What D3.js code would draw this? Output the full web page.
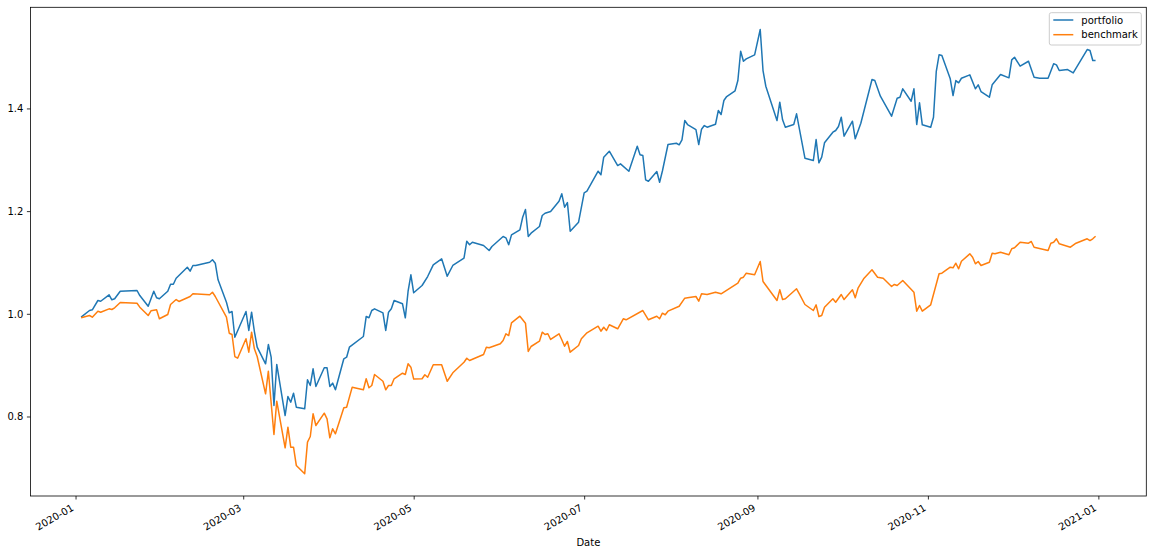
<!DOCTYPE html>
<html><head><meta charset="utf-8">
<script src="https://cdn.jsdelivr.net/npm/d3@7"></script>
<style>body{margin:0;background:#fff}svg{display:block}text{font-family:"DejaVu Sans",sans-serif}</style>
</head><body><svg id="c" width="1153" height="554"></svg>
<script>
// Days counted from 2020-01-01 (0 = Jan 1, 2020)
const portfolioDay = [2,5,6,8,9,12,13,14,16,22,23,26,28,29,30,33,34,35,36,40,41,42,43,48,49,50,51,54,55,56,57,61,62,63,64,65,68,69,70,71,72,75,76,77,78,79,82,83,84,85,86,89,90,91,92,93,96,97,98,103,104,105,106,107,110,111,112,113,114,117,118,119,120,121,124,126,128,131,133,135,139,140,141,142,146,148,149,153,154,155,156,159,160,161,162,163,166,167,168,170,173,174,175,176,177,180,182,183,187,188,189,191,194,195,198,201,202,203,204,205,208,209,210,212,215,216,217,218,219,222,223,224,225,226,229,230,231,232,233,236,237,238,239,240,243,245,246,247,251,252,253,254,257,258,261,264,265,266,267,268,271,272,273,274,275,278,279,281,285,286,288,292,294,295,296,299,300,301,302,303,306,307,308,309,310,313,314,315,316,317,320,322,323,324,327,328,331,334,335,336,338,341,343,345,348,350,351,352,355,357,362,363,364,365];
const portfolioValue = [0.9934,1.0064,1.0078,1.0259,1.0245,1.0370,1.0273,1.0292,1.0440,1.0454,1.0356,1.0148,1.0440,1.0312,1.0292,1.0440,1.0576,1.0576,1.0693,1.0907,1.0830,1.0941,1.0941,1.1005,1.1052,1.0985,1.0662,1.0226,1.0019,1.0045,0.9544,1.0045,0.9675,1.0031,0.9655,0.9350,0.9026,0.9402,0.9155,0.8214,0.9013,0.8019,0.8390,0.8279,0.8454,0.8181,0.8150,0.8715,0.8604,0.8929,0.8584,0.8948,0.8948,0.8584,0.8649,0.8520,0.9124,0.9155,0.9350,0.9558,0.9947,0.9922,1.0064,1.0097,1.0019,0.9675,1.0031,1.0097,1.0259,1.0195,0.9922,1.0440,1.0759,1.0409,1.0551,1.0726,1.0954,1.1071,1.0732,1.0941,1.1083,1.1414,1.1344,1.1394,1.1330,1.1233,1.1311,1.1505,1.1480,1.1344,1.1538,1.1636,1.1881,1.2031,1.1505,1.1570,1.1700,1.1914,1.1959,1.1992,1.2193,1.2337,1.2076,1.2167,1.1609,1.1784,1.2356,1.2388,1.2777,1.2707,1.3050,1.3167,1.2888,1.2921,1.2777,1.3264,1.3096,1.3083,1.2610,1.2582,1.2771,1.2563,1.2781,1.3297,1.3322,1.3291,1.3389,1.3764,1.3686,1.3589,1.3297,1.3595,1.3667,1.3634,1.3692,1.3959,1.3881,1.4154,1.4232,1.4343,1.4543,1.5114,1.4919,1.4966,1.5044,1.5537,1.4738,1.4432,1.3764,1.4121,1.3778,1.3634,1.3686,1.3895,1.3030,1.2985,1.3394,1.2941,1.3050,1.3330,1.3537,1.3570,1.3648,1.3829,1.3459,1.3751,1.3408,1.3712,1.4563,1.4543,1.4238,1.3848,1.4199,1.4218,1.4382,1.4140,1.4382,1.3686,1.4109,1.3681,1.3634,1.3829,1.4724,1.5044,1.5030,1.4576,1.4251,1.4543,1.4499,1.4588,1.4654,1.4382,1.4460,1.4329,1.4218,1.4460,1.4660,1.4596,1.4946,1.4997,1.4822,1.4919,1.4608,1.4588,1.4588,1.4869,1.4849,1.4738,1.4757,1.4693,1.5147,1.5128,1.4933,1.4933];
const benchmarkDay = [2,5,6,8,9,12,13,14,16,22,23,26,27,29,30,33,34,36,37,41,42,48,49,50,54,55,56,57,58,61,62,63,64,65,68,69,71,72,75,76,77,78,79,82,83,84,85,86,89,90,91,92,93,96,97,99,103,104,105,106,107,110,111,112,113,114,117,118,119,120,121,124,125,126,128,131,133,135,139,140,141,146,147,148,152,153,154,155,156,159,161,162,163,166,167,168,169,170,173,174,175,176,177,180,181,183,187,188,189,190,191,194,196,197,203,205,208,209,210,211,212,216,218,219,222,223,224,226,229,231,237,238,239,240,243,245,246,251,252,253,254,258,259,261,264,265,266,267,268,271,272,274,275,278,279,280,282,285,287,289,292,293,294,296,300,301,302,303,306,309,310,313,314,315,316,317,320,321,322,323,324,327,328,329,331,334,335,336,338,341,342,343,348,349,350,351,352,356,358,362,363,364,365];
const benchmarkValue = [0.9922,0.9967,0.9934,1.0051,1.0031,1.0097,1.0084,1.0117,1.0220,1.0206,1.0129,0.9967,1.0058,1.0078,0.9903,0.9986,1.0181,1.0278,1.0240,1.0337,1.0389,1.0370,1.0421,1.0337,0.9934,0.9622,0.9597,0.9168,0.9135,0.9513,0.9252,0.9642,0.9318,0.9168,0.8442,0.8882,0.7649,0.8298,0.7390,0.7792,0.7402,0.7402,0.7046,0.6884,0.7500,0.7610,0.8053,0.7825,0.8064,0.7955,0.7585,0.7760,0.7663,0.8169,0.8181,0.8571,0.8520,0.8734,0.8559,0.8604,0.8818,0.8687,0.8520,0.8604,0.8604,0.8734,0.8843,0.8818,0.9026,0.8960,0.8728,0.8734,0.8812,0.8765,0.9007,0.9007,0.8687,0.8851,0.9057,0.9135,0.9090,0.9207,0.9350,0.9338,0.9416,0.9480,0.9611,0.9577,0.9825,0.9953,0.9817,0.9266,0.9363,0.9466,0.9642,0.9597,0.9611,0.9500,0.9611,0.9494,0.9369,0.9461,0.9252,0.9383,0.9513,0.9630,0.9759,0.9661,0.9739,0.9675,0.9786,0.9708,0.9903,0.9883,1.0064,0.9883,0.9953,0.9903,1.0012,0.9981,1.0051,1.0148,1.0304,1.0312,1.0337,1.0245,1.0389,1.0376,1.0421,1.0389,1.0596,1.0693,1.0713,1.0791,1.0759,1.1018,1.0629,1.0259,1.0467,1.0278,1.0292,1.0487,1.0389,1.0181,1.0064,1.0175,0.9947,0.9967,1.0129,1.0292,1.0226,1.0376,1.0278,1.0467,1.0312,1.0499,1.0682,1.0857,1.0713,1.0693,1.0532,1.0571,1.0551,1.0648,1.0421,1.0051,1.0162,1.0051,1.0175,1.0779,1.0791,1.0907,1.0896,1.0985,1.0876,1.1024,1.1168,1.1102,1.0974,1.1018,1.0941,1.1005,1.1180,1.1168,1.1200,1.1149,1.1266,1.1285,1.1394,1.1375,1.1408,1.1297,1.1233,1.1375,1.1394,1.1461,1.1363,1.1297,1.1375,1.1461,1.1427,1.1461,1.1511];
const seriesNames = ["portfolio","benchmark"];
const yTicks = [0.8,1.0,1.2,1.4];
const xTickLabels = ["2020-01","2020-03","2020-05","2020-07","2020-09","2020-11","2021-01"];
const xLabel = "Date";

const colors = ["#1f77b4","#ff7f0e"];
const m = {left:30.4, right:1146.3, top:7.3, bottom:496};
const base = Date.UTC(2020,0,1);
const toDate = d => new Date(base + d*86400000);
const series = [
  portfolioDay.map((d,i)=>({date:toDate(d), value:portfolioValue[i]})),
  benchmarkDay.map((d,i)=>({date:toDate(d), value:benchmarkValue[i]}))
];
const all = series.flat();
const [x0,x1] = d3.extent(all, d=>d.date);
const xs = x1 - x0;
const x = d3.scaleUtc().domain([new Date(+x0 - 0.05*xs), new Date(+x1 + 0.05*xs)]).range([m.left, m.right]);
const [y0,y1] = d3.extent(all, d=>d.value);
const ys = y1 - y0;
const y = d3.scaleLinear().domain([y0 - 0.05*ys, y1 + 0.05*ys]).range([m.bottom, m.top]);

const svg = d3.select("#c");
svg.append("defs").append("clipPath").attr("id","clip").append("rect")
  .attr("x",m.left).attr("y",m.top).attr("width",m.right-m.left).attr("height",m.bottom-m.top);

const line = d3.line().x(d=>x(d.date)).y(d=>y(d.value));
series.forEach((s,i)=>{
  svg.append("path").datum(s).attr("clip-path","url(#clip)")
    .attr("fill","none").attr("stroke",colors[i]).attr("stroke-width",1.5)
    .attr("stroke-linejoin","round").attr("d",line);
});

// axes
const parseM = d3.utcParse("%Y-%m");
const xAxis = d3.axisBottom(x).tickValues(xTickLabels.map(parseM)).tickFormat(d3.utcFormat("%Y-%m")).tickSize(3.5).tickPadding(3.5);
const gx = svg.append("g").attr("transform",`translate(0,${m.bottom})`).call(xAxis);
gx.select(".domain").remove();
gx.selectAll(".tick line").attr("stroke","#000").attr("stroke-width",0.8);
gx.selectAll(".tick text").attr("fill","#000").attr("font-size",10)
  .attr("text-anchor","end").attr("y",null).attr("dy","0.78em")
  .attr("transform","translate(-5.5,7) rotate(-30)");

const yAxis = d3.axisLeft(y).tickValues(yTicks).tickFormat(d3.format(".1f")).tickSize(3.5).tickPadding(3.5);
const gy = svg.append("g").attr("transform",`translate(${m.left},0)`).call(yAxis);
gy.select(".domain").remove();
gy.selectAll(".tick line").attr("stroke","#000").attr("stroke-width",0.8);
gy.selectAll(".tick text").attr("fill","#000").attr("font-size",10);

svg.append("rect").attr("x",m.left).attr("y",m.top).attr("width",m.right-m.left).attr("height",m.bottom-m.top)
  .attr("fill","none").attr("stroke","#000").attr("stroke-width",0.8);

svg.append("text").attr("x",(m.left+m.right)/2).attr("y",546).attr("text-anchor","middle")
  .attr("font-size",10).attr("fill","#000").text(xLabel);

// legend
const lw = 92, lx = m.right - 5 - lw, ly = m.top + 5.4;
const lg = svg.append("g");
lg.append("rect").attr("x",lx).attr("y",ly).attr("width",lw).attr("height",32.3).attr("rx",2)
  .attr("fill","#fff").attr("fill-opacity",0.8).attr("stroke","#cccccc").attr("stroke-width",1);
seriesNames.forEach((n,i)=>{
  const yy = ly + 7.3 + i*14.7;
  lg.append("line").attr("x1",lx+4).attr("x2",lx+24).attr("y1",yy).attr("y2",yy)
    .attr("stroke",colors[i]).attr("stroke-width",1.5);
  lg.append("text").attr("x",lx+32).attr("y",yy).attr("dy","0.35em").attr("font-size",10).attr("fill","#000").text(n);
});
</script></body></html>
